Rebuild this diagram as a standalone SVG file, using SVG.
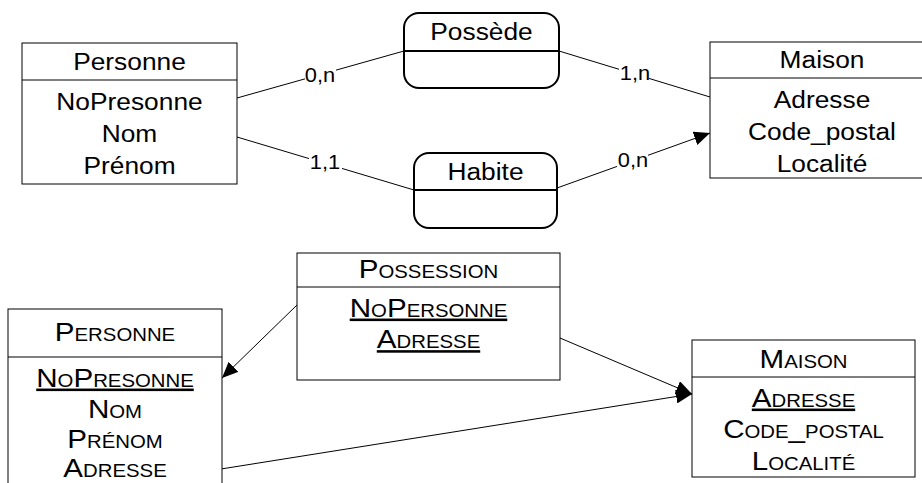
<svg xmlns="http://www.w3.org/2000/svg" width="922" height="483" viewBox="0 0 922 483">
  <defs>
    <style>
      .box { fill: #fff; stroke: #000; stroke-width: 1; }
      .rbox { fill: #fff; stroke: #000; stroke-width: 2; }
      .div { stroke: #000; stroke-width: 1; }
      .rdiv { stroke: #000; stroke-width: 2; }
      .t { font-family: "Liberation Sans", Arial, sans-serif; font-size: 23.3px; fill: #000; text-anchor: middle; }
      .sc { font-family: "Liberation Sans", Arial, sans-serif; font-size: 25.5px; fill: #000; text-anchor: middle; font-variant: small-caps; }
      .u { text-decoration: underline; }
      .lbl { font-family: "Liberation Sans", Arial, sans-serif; font-size: 19.5px; fill: #000; text-anchor: middle; }
      .lblbg { fill: #fff; }
      .edge { fill: none; stroke: #000; stroke-width: 1; }
    </style>
    <marker id="arrow" markerUnits="userSpaceOnUse" markerWidth="16" markerHeight="14" refX="16" refY="7" orient="auto">
      <path d="M0,0 L16,7 L0,14 Z" fill="#000"/>
    </marker>
  </defs>

  <!-- Conceptual model: connectors -->
  <g id="connectors-mcd">
    <line class="edge" x1="237" y1="98" x2="404" y2="51"/>
    <line class="edge" x1="559" y1="51" x2="710" y2="97"/>
    <line class="edge" x1="237" y1="137" x2="414" y2="190"/>
    <line class="edge" x1="557" y1="188" x2="710" y2="133" marker-end="url(#arrow)"/>
    <rect class="lblbg" x="305" y="64" width="31" height="21"/>
    <text class="lbl" transform="translate(320,82.3) scale(1.12,1)">0,n</text>
    <rect class="lblbg" x="619" y="63" width="30" height="20"/>
    <text class="lbl" transform="translate(635,80) scale(1.12,1)">1,n</text>
    <rect class="lblbg" x="309" y="152" width="33" height="20"/>
    <text class="lbl" transform="translate(325,169.3) scale(1.12,1)">1,1</text>
    <rect class="lblbg" x="617" y="149" width="31" height="21"/>
    <text class="lbl" transform="translate(633,166.7) scale(1.12,1)">0,n</text>
  </g>

  <!-- Conceptual model: entities and associations -->
  <g id="mcd-personne">
    <rect class="box" x="22" y="43" width="215" height="141"/>
    <line class="div" x1="22" y1="80" x2="237" y2="80"/>
    <text class="t" transform="translate(129.5,70) scale(1.13,1)">Personne</text>
    <text class="t" transform="translate(129.5,110) scale(1.13,1)">NoPresonne</text>
    <text class="t" transform="translate(129.5,142) scale(1.13,1)">Nom</text>
    <text class="t" transform="translate(129.5,174) scale(1.13,1)">Prénom</text>
  </g>

  <g id="mcd-possede">
    <rect class="rbox" x="404" y="13" width="155" height="75" rx="15" ry="15"/>
    <line class="rdiv" x1="404" y1="51" x2="559" y2="51"/>
    <text class="t" transform="translate(481.5,39.5) scale(1.13,1)">Possède</text>
  </g>

  <g id="mcd-habite">
    <rect class="rbox" x="414" y="153" width="143" height="75" rx="15" ry="15"/>
    <line class="rdiv" x1="414" y1="190" x2="557" y2="190"/>
    <text class="t" transform="translate(485.5,180) scale(1.13,1)">Habite</text>
  </g>

  <g id="mcd-maison">
    <rect class="box" x="710" y="42" width="224" height="136"/>
    <line class="div" x1="710" y1="78" x2="934" y2="78"/>
    <text class="t" transform="translate(822,68) scale(1.13,1)">Maison</text>
    <text class="t" transform="translate(822,108) scale(1.13,1)">Adresse</text>
    <text class="t" transform="translate(822,140) scale(1.13,1)">Code_postal</text>
    <text class="t" transform="translate(822,172) scale(1.13,1)">Localité</text>
  </g>

  <!-- Logical model: connectors -->
  <g id="connectors-mld">
    <line class="edge" x1="297" y1="305" x2="222" y2="378" marker-end="url(#arrow)"/>
    <line class="edge" x1="560" y1="338" x2="692" y2="394" marker-end="url(#arrow)"/>
    <line class="edge" x1="221" y1="469" x2="692" y2="394" marker-end="url(#arrow)"/>
  </g>

  <!-- Logical model: tables -->
  <g id="mld-possession">
    <rect class="box" x="297" y="253" width="263" height="127"/>
    <line class="div" x1="297" y1="287" x2="560" y2="287"/>
    <text class="sc" transform="translate(428.5,278.3) scale(1.16,1)">Possession</text>
    <text class="sc u" transform="translate(428.5,316.7) scale(1.16,1)">NoPersonne</text>
    <text class="sc u" transform="translate(428.5,348.3) scale(1.16,1)">Adresse</text>
  </g>

  <g id="mld-personne">
    <rect class="box" x="8" y="309" width="214" height="200"/>
    <line class="div" x1="8" y1="357" x2="222" y2="357"/>
    <text class="sc" transform="translate(115,340.7) scale(1.16,1)">Personne</text>
    <text class="sc u" transform="translate(115,386.7) scale(1.16,1)">NoPresonne</text>
    <text class="sc" transform="translate(115,417.5) scale(1.16,1)">Nom</text>
    <text class="sc" transform="translate(115,447.5) scale(1.16,1)">Prénom</text>
    <text class="sc" transform="translate(115,477) scale(1.16,1)">Adresse</text>
  </g>

  <g id="mld-maison">
    <rect class="box" x="692" y="340" width="223" height="137"/>
    <line class="div" x1="692" y1="377" x2="915" y2="377"/>
    <text class="sc" transform="translate(803.5,368.3) scale(1.16,1)">Maison</text>
    <text class="sc u" transform="translate(803.5,406.7) scale(1.16,1)">Adresse</text>
    <text class="sc" transform="translate(803.5,438.3) scale(1.16,1)">Code_postal</text>
    <text class="sc" transform="translate(803.5,470) scale(1.16,1)">Localité</text>
  </g>
</svg>
